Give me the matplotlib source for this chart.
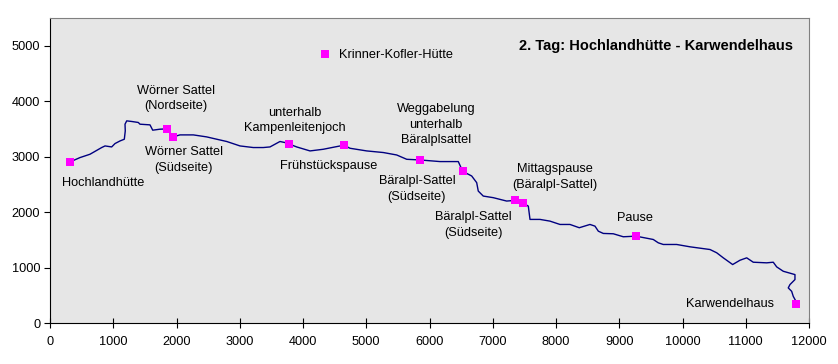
import matplotlib
matplotlib.use("Agg")
import matplotlib.pyplot as plt

plt.rcParams['font.family'] = ['Liberation Sans', 'DejaVu Sans']

# Höhenprofil (Distanz in m, Höhe in m)
profil_x = [316, 474, 632, 817, 870, 975, 1028, 1107, 1175, 1190, 1186, 1213,
            1292, 1396, 1423, 1581, 1624, 1739, 1845, 1897, 1945, 2055, 2266,
            2477, 2636, 2794, 3004, 3214, 3372, 3478, 3557, 3636, 3715, 3779,
            3900, 4111, 4321, 4506, 4648, 4743, 5007, 5270, 5481, 5640, 5850,
            6166, 6455, 6525, 6667, 6746, 6771, 6850, 7008, 7220, 7352, 7478,
            7562, 7589, 7747, 7905, 8063, 8221, 8368, 8537, 8616, 8669, 8748,
            8906, 9064, 9265, 9538, 9617, 9696, 9908, 10118, 10435, 10541,
            10645, 10793, 10909, 11015, 11119, 11331, 11435, 11489, 11593,
            11778, 11778, 11699, 11672, 11726, 11751, 11794, 11794]
profil_y = [2904, 2983, 3043, 3164, 3193, 3175, 3236, 3283, 3314, 3464, 3585,
            3645, 3634, 3616, 3585, 3573, 3477, 3495, 3500, 3435, 3356, 3392,
            3392, 3356, 3314, 3273, 3193, 3164, 3164, 3175, 3224, 3273, 3254,
            3229, 3175, 3103, 3133, 3175, 3206, 3151, 3103, 3074, 3030, 2952,
            2940, 2911, 2911, 2735, 2651, 2531, 2379, 2289, 2260, 2199, 2211,
            2163, 2108, 1868, 1868, 1837, 1777, 1777, 1718, 1777, 1747, 1656,
            1615, 1609, 1555, 1566, 1506, 1446, 1416, 1416, 1374, 1325, 1266,
            1175, 1054, 1132, 1175, 1096, 1085, 1096, 1012, 933, 873, 783, 693,
            633, 571, 481, 391, 336]

# Wegpunkte
punkt_x = [316, 1845, 1945, 3779, 4648, 4348, 5850, 6525, 7352, 7478, 9265, 11794]
punkt_y = [2904, 3500, 3356, 3229, 3206, 4850, 2940, 2735, 2211, 2163, 1566, 336]

# Beschriftungen (Text, x, y, Ausrichtung)
beschriftungen = [
    ("Hochlandhütte", 838, 2519, "center"),
    ("Wörner Sattel\n(Nordseite)", 1992, 4046, "center"),
    ("Wörner Sattel\n(Südseite)", 2118, 2934, "center"),
    ("unterhalb\nKampenleitenjoch", 3873, 3649, "center"),
    ("Frühstückspause", 4411, 2826, "center"),
    ("Krinner-Kofler-Hütte", 4569, 4833, "left"),
    ("Weggabelung\nunterhalb\nBäralplsattel", 6103, 3576, "center"),
    ("Bäralpl-Sattel\n(Südseite)", 5802, 2419, "center"),
    ("Mittagspause\n(Bäralpl-Sattel)", 7984, 2636, "center"),
    ("Bäralpl-Sattel\n(Südseite)", 6688, 1768, "center"),
    ("Pause", 9249, 1886, "center"),
    ("Karwendelhaus", 10758, 349, "center"),
]

x_ticks = list(range(0, 12001, 1000))
y_ticks = list(range(0, 5001, 1000))

fig = plt.figure(figsize=(8.38, 3.64), dpi=100)
ax = fig.add_axes([50 / 838, 1 - 323 / 364, 759 / 838, 305 / 364])
ax.set_facecolor('#E6E6E6')

ax.plot(profil_x, profil_y, color='#000080', lw=1.0, zorder=2)
ax.plot(punkt_x, punkt_y, ls='none', marker='s', ms=5.5, color='#FF00FF',
        mec='#FF00FF', mew=0, zorder=3)

for txt, tx, ty, ha in beschriftungen:
    ax.text(tx, ty, txt, ha=ha, va='center', fontsize=9.2, linespacing=1.4)

ax.text(0.798, 0.908, "2. Tag: Hochlandhütte - Karwendelhaus",
        transform=ax.transAxes, ha='center', va='center',
        fontsize=10.5, fontweight='bold')

ax.set_xlim(0, 12000)
ax.set_ylim(0, 5500)
ax.set_xticks(x_ticks)
ax.set_yticks(y_ticks)
ax.tick_params(axis='x', direction='inout', length=7, labelsize=9.2, pad=6)
ax.tick_params(axis='y', direction='out', length=4, labelsize=9.2, pad=3)

for s in ['top', 'right']:
    ax.spines[s].set_color('#808080')
for s in ['left', 'bottom']:
    ax.spines[s].set_color('black')

fig.savefig('out.png', dpi=100)
